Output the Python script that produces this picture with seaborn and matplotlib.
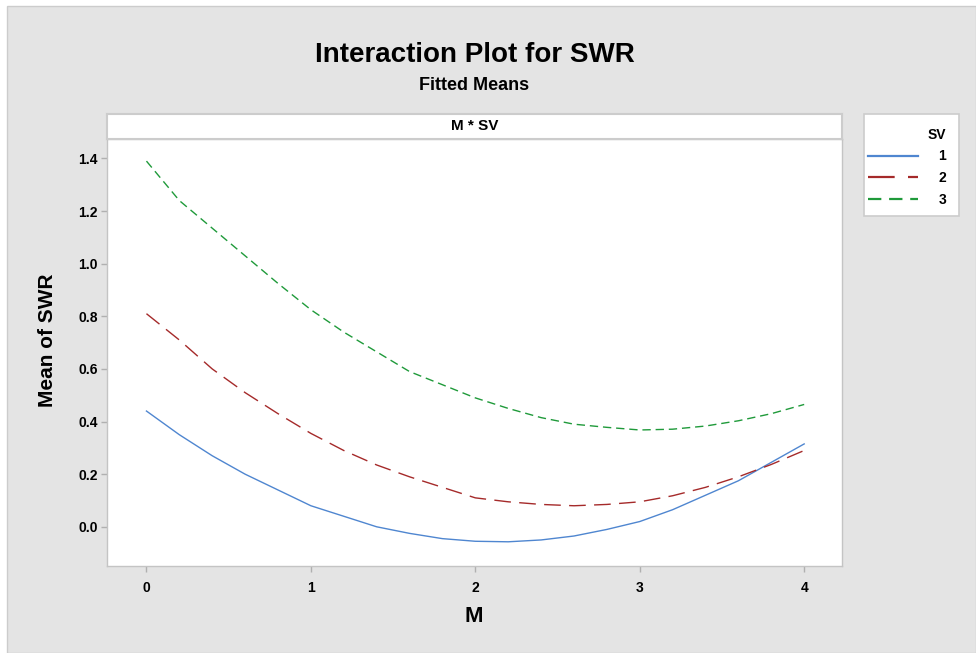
import numpy as np
import pandas as pd
import matplotlib
matplotlib.use("Agg")
import matplotlib.pyplot as plt
import seaborn as sns
from matplotlib.patches import Rectangle

# valeurs (moyennes ajustees)
m_values = [0.0, 0.2, 0.4, 0.6, 0.8, 1.0, 1.2, 1.4, 1.6, 1.8, 2.0,
            2.2, 2.4, 2.6, 2.8, 3.0, 3.2, 3.4, 3.6, 3.8, 4.0]
swr_sv1 = [0.44, 0.35, 0.27, 0.20, 0.14, 0.08, 0.04, 0.00, -0.025, -0.045, -0.055,
           -0.057, -0.05, -0.035, -0.01, 0.02, 0.065, 0.12, 0.175, 0.245, 0.315]
swr_sv2 = [0.81, 0.71, 0.60, 0.51, 0.43, 0.355, 0.29, 0.235, 0.19, 0.15, 0.11,
           0.095, 0.085, 0.08, 0.085, 0.095, 0.118, 0.15, 0.19, 0.237, 0.29]
swr_sv3 = [1.39, 1.24, 1.135, 1.03, 0.925, 0.825, 0.74, 0.665, 0.59, 0.54, 0.49,
           0.45, 0.415, 0.39, 0.378, 0.368, 0.371, 0.383, 0.403, 0.43, 0.465]
sv_levels = ["1", "2", "3"]
y_ticks = [0.0, 0.2, 0.4, 0.6, 0.8, 1.0, 1.2, 1.4]
x_ticks = [0, 1, 2, 3, 4]

df = pd.DataFrame({
    "M": m_values * 3,
    "SWR": swr_sv1 + swr_sv2 + swr_sv3,
    "SV": [sv_levels[0]] * len(m_values) + [sv_levels[1]] * len(m_values) + [sv_levels[2]] * len(m_values),
})

plt.rcParams["font.family"] = ["Liberation Sans", "DejaVu Sans"]
plt.rcParams["font.weight"] = "bold"

W, H = 976, 653
fig = plt.figure(figsize=(W / 100, H / 100), dpi=100, facecolor="white")

# fond gris type Minitab
fig.add_artist(Rectangle((7 / W, 0), 1 - 7 / W, 1 - 6 / H, transform=fig.transFigure,
                         facecolor="#e4e4e4", edgecolor="#cccccc", lw=1, zorder=-10))

ax_l, ax_r, ax_t, ax_b = 107, 842, 139, 566
ax = fig.add_axes([ax_l / W, 1 - ax_b / H, (ax_r - ax_l) / W, (ax_b - ax_t) / H])

palette = {"1": "#4f86d0", "2": "#a52a2a", "3": "#1f9a3a"}
dashes = {"1": "", "2": (12, 6), "3": (6, 3.5)}
sns.lineplot(data=df, x="M", y="SWR", hue="SV", style="SV", palette=palette,
             dashes=dashes, errorbar=None, lw=1, ax=ax)

handles, labels = ax.get_legend_handles_labels()
ax.get_legend().remove()

ax.set_xlim(-0.24, 4.23)
ax.set_ylim(-0.149, 1.474)
ax.set_xticks(x_ticks)
ax.set_yticks(y_ticks)
ax.set_yticklabels([f"{v:.1f}" for v in y_ticks])
ax.set_xlabel("")
ax.set_ylabel("")
ax.set_facecolor("white")
for s in ax.spines.values():
    s.set_color("#c4c4c4")
    s.set_linewidth(1)
ax.tick_params(axis="both", colors="#b0b0b0", labelcolor="black", length=4.5, width=1,
               labelsize=10)
ax.tick_params(axis="x", pad=6)
ax.tick_params(axis="y", pad=2)
for lab in ax.get_xticklabels() + ax.get_yticklabels():
    lab.set_fontweight("bold")

# bandeau "M * SV"
strip = fig.add_axes([ax_l / W, 1 - ax_t / H, (ax_r - ax_l) / W, 25 / H])
strip.set_facecolor("white")
strip.set_xticks([])
strip.set_yticks([])
for s in strip.spines.values():
    s.set_color("#cccccc")
    s.set_linewidth(1.5)
strip.text(0.5, 0.5, "M * SV", ha="center", va="center", fontsize=11,
           fontweight="bold", transform=strip.transAxes)

cx = (ax_l + ax_r) / 2 / W
fig.text(cx, 1 - 55 / H, "Interaction Plot for SWR", ha="center", va="center",
         fontsize=20, fontweight="bold")
fig.text(cx, 1 - 86 / H, "Fitted Means", ha="center", va="center",
         fontsize=13, fontweight="bold")
fig.text(47.5 / W, 1 - 340 / H, "Mean of SWR", rotation=90, ha="center", va="center",
         fontsize=15, fontweight="bold")
fig.text(474 / W, 1 - 617 / H, "M", ha="center", va="center",
         fontsize=16, fontweight="bold")

# legende
fig.add_artist(Rectangle((864 / W, 1 - 216 / H), 95 / W, 102 / H, transform=fig.transFigure,
                         facecolor="white", edgecolor="#cccccc", lw=1.2, zorder=1))
leg = fig.legend(handles, labels, title="SV", loc="upper right",
                 bbox_to_anchor=(956 / W, 1 - 118 / H), frameon=False,
                 handlelength=3.6, handletextpad=1.5, labelspacing=0.55,
                 borderpad=0.2, alignment="right",
                 prop={"weight": "bold", "size": 10},
                 title_fontproperties={"weight": "bold", "size": 10})
leg.set_zorder(2)
for h in leg.legend_handles:
    h.set_linewidth(1.6)

fig.savefig("out.png", dpi=100, facecolor=fig.get_facecolor())
